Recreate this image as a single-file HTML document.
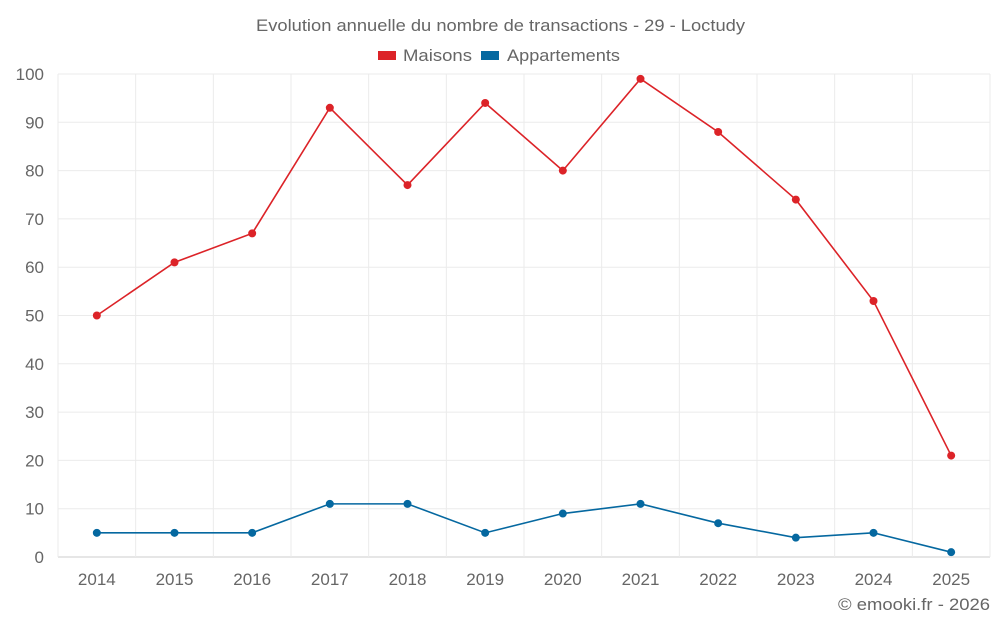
<!DOCTYPE html>
<html><head><meta charset="utf-8"><style>
body{margin:0;background:#fff;font-family:"Liberation Sans",sans-serif;}
svg text{font-family:"Liberation Sans",sans-serif;fill:#666;}
</style></head><body>
<svg id="c" width="1000" height="625">
<text x="256" y="31" font-size="17" textLength="489" lengthAdjust="spacingAndGlyphs">Evolution annuelle du nombre de transactions - 29 - Loctudy</text>
<g>
<rect x="378" y="51" width="18" height="9" fill="#dc2328"/>
<text x="403" y="61" font-size="17" textLength="69" lengthAdjust="spacingAndGlyphs">Maisons</text>
<rect x="481" y="51" width="18" height="9" fill="#0568a0"/>
<text x="507" y="61" font-size="17" textLength="113" lengthAdjust="spacingAndGlyphs">Appartements</text>
</g>
<g id="grid"></g><g id="axes"></g><g id="series"></g>
<text x="838" y="610" font-size="17" textLength="152" lengthAdjust="spacingAndGlyphs">© emooki.fr - 2026</text>
</svg>
<script>
const categories=["2014","2015","2016","2017","2018","2019","2020","2021","2022","2023","2024","2025"];
const maisons=[50,61,67,93,77,94,80,99,88,74,53,21];
const appartements=[5,5,5,11,11,5,9,11,7,4,5,1];
const yTicks=[0,10,20,30,40,50,60,70,80,90,100];
const NS="http://www.w3.org/2000/svg";
const L=58,R=990,T=74,B=557,yMax=100;
const bw=(R-L)/categories.length;
const x=i=>L+bw*(i+0.5);
const y=v=>B-(v/yMax)*(B-T);
function mk(tag,attrs,parent){const e=document.createElementNS(NS,tag);for(const k in attrs)e.setAttribute(k,attrs[k]);parent.appendChild(e);return e;}
const grid=document.getElementById('grid'),axes=document.getElementById('axes'),ser=document.getElementById('series');
yTicks.forEach(t=>{
 const l=mk('line',{x1:L,x2:R,y1:y(t),y2:y(t),stroke:t===0?'#ccc':'#ebebeb'},grid);
 
 
 const tx=mk('text',{x:L-14,y:y(t)+6,'text-anchor':'end','font-size':17},axes);
 tx.textContent=t;
 
 
});
for(let i=0;i<=categories.length;i++){
 const l=mk('line',{x1:L+bw*i,x2:L+bw*i,y1:T,y2:B,stroke:'#ebebeb'},grid);
 
 
}
categories.forEach((c,i)=>{
 const tx=mk('text',{x:x(i),y:585,'text-anchor':'middle','font-size':17},axes);
 tx.textContent=c;
 
 
});
function draw(vals,color,name){
 const p=mk('polyline',{points:vals.map((v,i)=>x(i)+','+y(v)).join(' '),fill:'none',stroke:color,'stroke-width':1.6},ser);
 
 
 vals.forEach((v,i)=>{
  const c=mk('circle',{cx:x(i),cy:y(v),r:4,fill:color},ser);
  
  
 });
}
draw(maisons,'#dc2328','maisons');
draw(appartements,'#0568a0','appartements');
</script>
</body></html>
